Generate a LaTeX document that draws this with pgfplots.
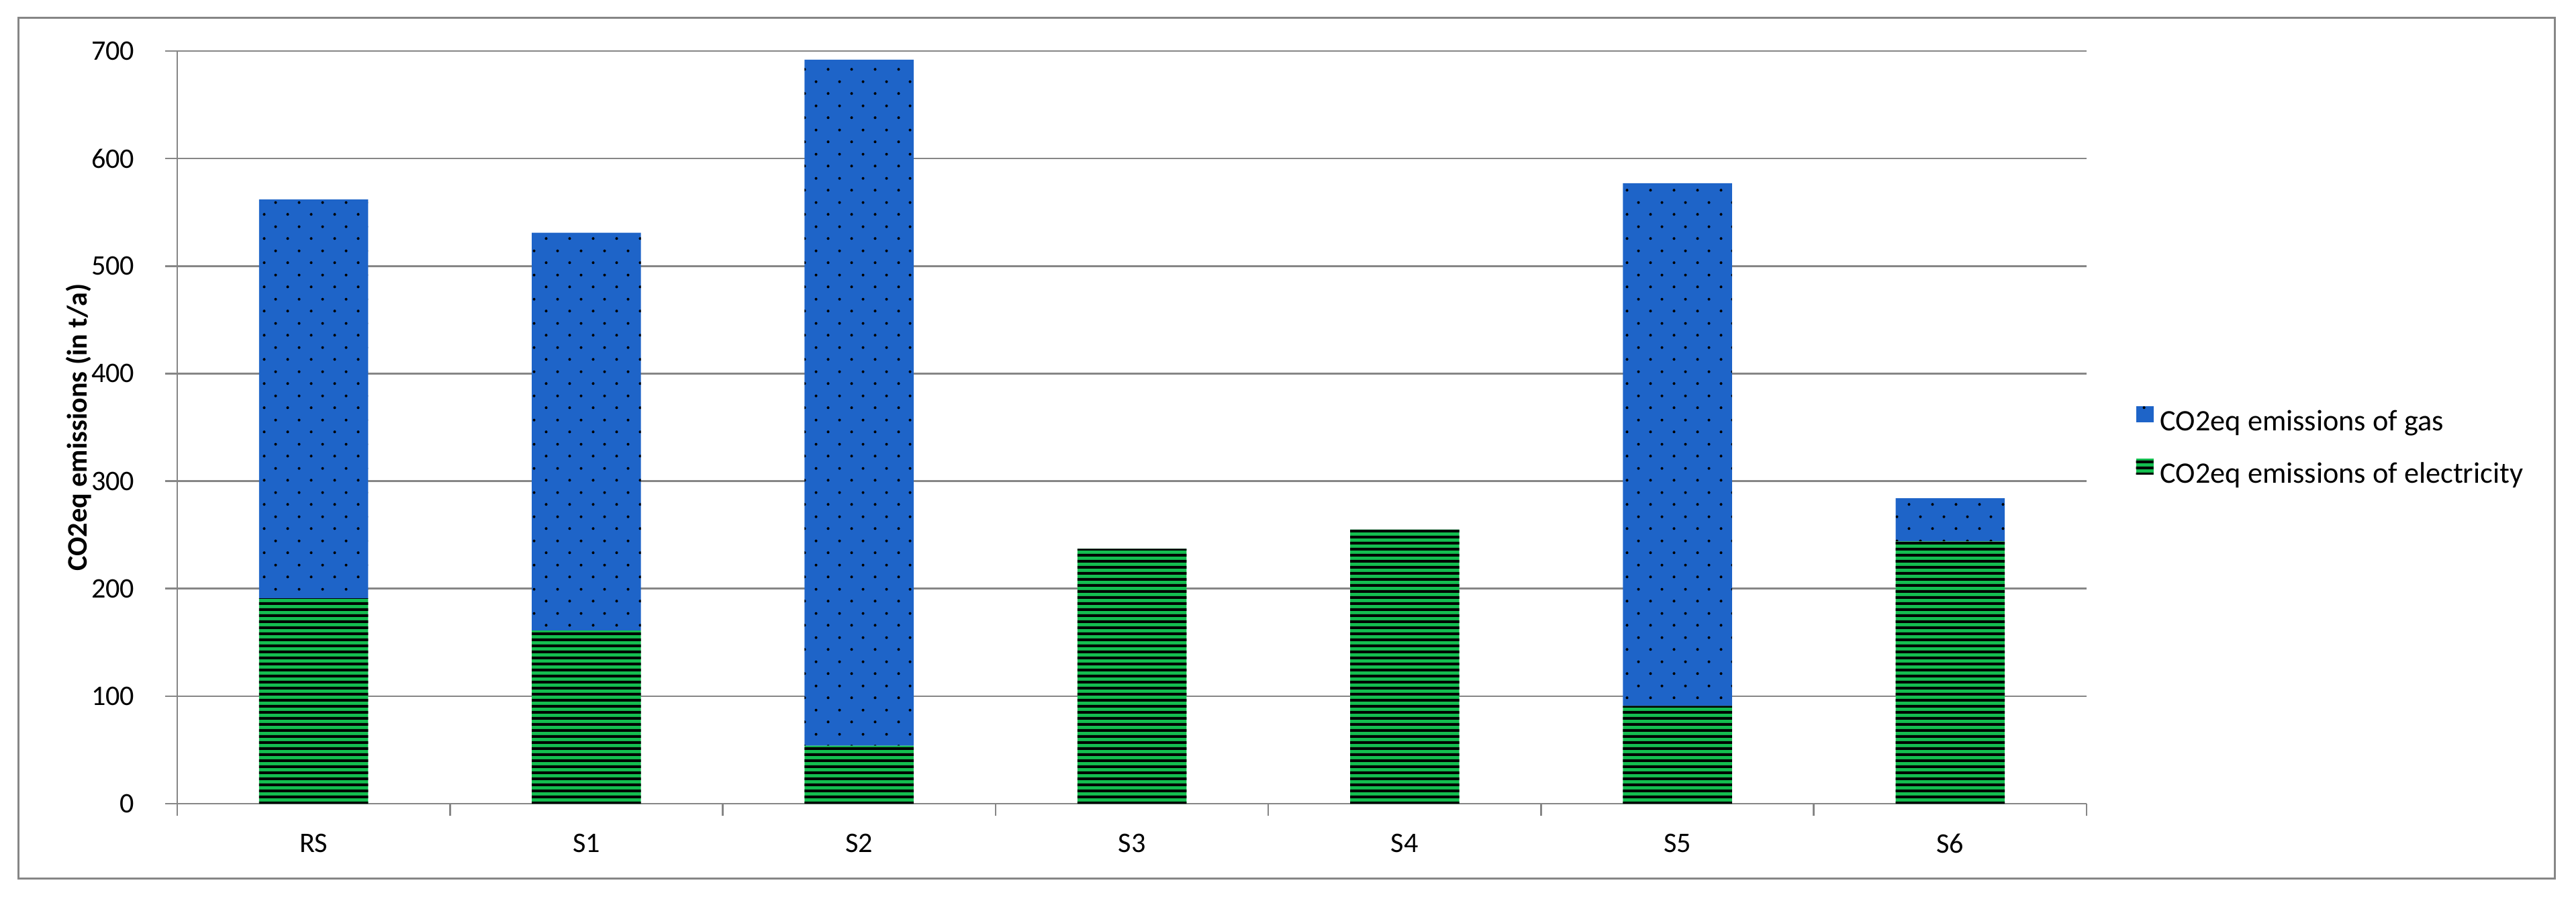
\documentclass[border=0pt]{standalone}
\usepackage{fontspec}
\setmainfont{Carlito}
\usepackage{pgfplots}
\usepackage{pgfplotstable}
\pgfplotsset{compat=1.18}
\usetikzlibrary{patterns}

\definecolor{gasblue}{RGB}{30,100,200}
\definecolor{elecgreen}{RGB}{20,190,80}
\definecolor{gridgray}{RGB}{134,134,134}

% staggered dots for gas, horizontal stripes for electricity
\pgfdeclarepatternformonly{gasdots}{\pgfpointorigin}{\pgfpoint{3.5mm}{3.6mm}}{\pgfpoint{3.5mm}{3.6mm}}{%
  \pgfpathcircle{\pgfpoint{0.875mm}{0.9mm}}{0.21mm}%
  \pgfpathcircle{\pgfpoint{2.625mm}{2.7mm}}{0.21mm}%
  \pgfusepath{fill}}
\pgfdeclarepatternformonly{elecstripes}{\pgfpointorigin}{\pgfpoint{1mm}{0.86mm}}{\pgfpoint{1mm}{0.86mm}}{%
  \pgfpathrectangle{\pgfpoint{-0.1mm}{0mm}}{\pgfpoint{1.2mm}{0.42mm}}%
  \pgfusepath{fill}}

\pgfplotstableread{
cat elec gas
0 191 371
1 161 370
2 54  638
3 237 0
4 255 0
5 91  486
6 244 40
}\emissions

\newcommand{\chartfont}{\fontsize{12pt}{14pt}\selectfont}
\newcommand{\legfont}{\fontsize{12.6pt}{14pt}\selectfont}

\begin{document}
\begin{tikzpicture}[font=\chartfont]
\useasboundingbox (0,0) rectangle (383.7mm,133.5mm);
\draw[gridgray, line width=0.3mm] (2.7mm,2.7mm) rectangle (380.5mm,130.9mm);
\begin{axis}[
  at={(26.4mm,13.8mm)}, anchor=south west,
  scale only axis, width=284.4mm, height=112.1mm,
  ybar stacked, bar width=0.4,
  xmin=-0.5, xmax=6.5, ymin=0, ymax=700,
  ytick={0,100,...,700},
  xtick={-0.5,0.5,...,6.5}, xticklabel={\mbox{}},
  extra x ticks={0,1,2,3,4,5,6},
  extra x tick labels={RS,S1,S2,S3,S4,S5,S6},
  extra x tick style={major tick length=0pt, grid=none},
  axis x line*=bottom, axis y line*=left,
  axis line style={-, gridgray, line width=0.25mm},
  ymajorgrids, grid style={gridgray, line width=0.25mm},
  tick align=outside, major tick length=1.8mm,
  tick style={gridgray, line width=0.25mm},
  /pgf/number format/assume math mode=true,
  tick label style={font=\chartfont},
  yticklabel style={anchor=east, inner sep=0pt, xshift=-4.5mm},
  xticklabel style={anchor=center, inner sep=0pt, yshift=-5.9mm},
  ylabel={CO2eq emissions (in t/a)},
  every axis y label/.style={at={(axis description cs:0,0.5)}, xshift=-14.7mm, rotate=90, anchor=center, font=\chartfont\bfseries},
  legend style={draw=none, fill=none, at={(axis description cs:1,0.4723)}, anchor=west, xshift=7.3mm,
    inner sep=0pt, row sep=3.1mm, font=\legfont, nodes={inner sep=0.5mm}},
  legend cell align=left,
  reverse legend,
  legend image code/.code={\draw[#1, draw=none] (0mm,0mm) rectangle (2.6mm,2.4mm); \path (3.1mm,0mm);},
]
\addplot[fill=elecgreen, draw=none, postaction={pattern=elecstripes, pattern color=black}]
  table[x=cat, y=elec] {\emissions};
\addlegendentry{CO2eq emissions of electricity}
\addplot[fill=gasblue, draw=none, postaction={pattern=gasdots, pattern color=black}]
  table[x=cat, y=gas] {\emissions};
\addlegendentry{CO2eq emissions of gas}
\end{axis}
\end{tikzpicture}
\end{document}
